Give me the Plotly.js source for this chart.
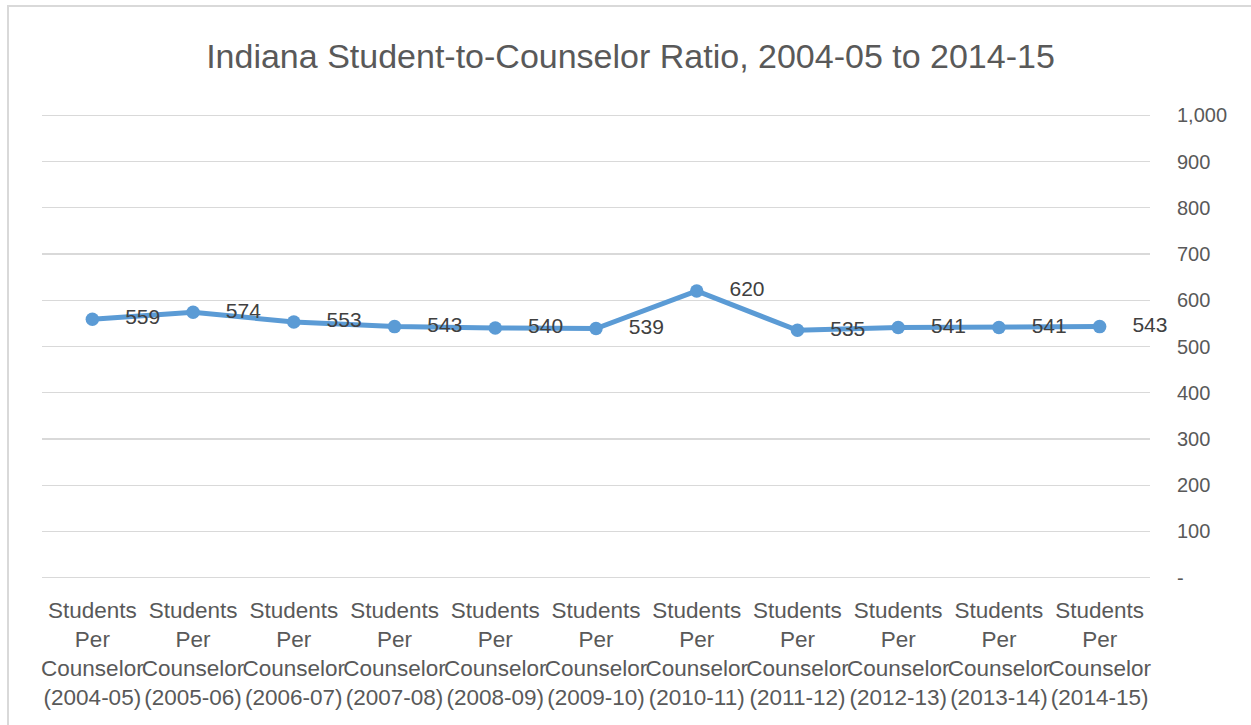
<!DOCTYPE html>
<html>
<head>
<meta charset="utf-8">
<script src="https://cdn.plot.ly/plotly-3.0.1.min.js"></script>
<style>
html,body{margin:0;padding:0;background:#fff;}
#chart{position:absolute;left:0;top:0;width:1251px;height:725px;}
#frame{position:absolute;left:7px;top:5px;width:1260px;height:740px;border-left:2px solid #d9d9d9;border-top:2px solid #d9d9d9;pointer-events:none;}
</style>
</head>
<body>
<div id="chart"></div>
<div id="frame"></div>
<script>
var categories = [
  "Students<br>Per<br>Counselor<br>(2004-05)",
  "Students<br>Per<br>Counselor<br>(2005-06)",
  "Students<br>Per<br>Counselor<br>(2006-07)",
  "Students<br>Per<br>Counselor<br>(2007-08)",
  "Students<br>Per<br>Counselor<br>(2008-09)",
  "Students<br>Per<br>Counselor<br>(2009-10)",
  "Students<br>Per<br>Counselor<br>(2010-11)",
  "Students<br>Per<br>Counselor<br>(2011-12)",
  "Students<br>Per<br>Counselor<br>(2012-13)",
  "Students<br>Per<br>Counselor<br>(2013-14)",
  "Students<br>Per<br>Counselor<br>(2014-15)"
];
var ratios = [559, 574, 553, 543, 540, 539, 620, 535, 541, 541, 543];
var yTickVals = [0, 100, 200, 300, 400, 500, 600, 700, 800, 900, 1000];
var yTickText = ["-", "100", "200", "300", "400", "500", "600", "700", "800", "900", "1,000"];
var chartTitle = "Indiana Student-to-Counselor Ratio, 2004-05 to 2014-15";

var fontFam = "Liberation Sans, Arial, sans-serif";

var trace = {
  x: categories,
  y: ratios,
  type: "scatter",
  mode: "lines+markers+text",
  text: ratios.map(function (v) { return "\u00a0\u00a0\u00a0\u00a0" + v; }),
  textposition: "middle right",
  textfont: {family: fontFam, size: 21, color: "#404040"},
  line: {color: "#5B9BD5", width: 5},
  marker: {color: "#5B9BD5", size: 13.5},
  cliponaxis: false,
  hoverinfo: "x+y"
};

var layout = {
  width: 1251,
  height: 725,
  margin: {l: 42, r: 101, t: 113, b: 145},
  paper_bgcolor: "#ffffff",
  plot_bgcolor: "#ffffff",
  showlegend: false,
  title: {
    text: chartTitle,
    font: {family: fontFam, size: 34, color: "#595959"},
    x: 0.504, xanchor: "center",
    y: 0.922, yanchor: "middle"
  },
  xaxis: {
    type: "category",
    range: [-0.5, 10.5],
    showgrid: false,
    showline: false,
    zeroline: false,
    ticks: "",
    tickangle: 0,
    ticklabelstandoff: 14,
    tickfont: {family: fontFam, size: 22.5, color: "#595959"},
    automargin: false
  },
  yaxis: {
    side: "right",
    range: [-5, 1005],
    tickvals: yTickVals,
    ticktext: yTickText,
    showgrid: true,
    gridcolor: "#d9d9d9",
    gridwidth: 1.3,
    zeroline: false,
    showline: false,
    ticks: "",
    ticklabelstandoff: 26,
    tickfont: {family: fontFam, size: 20, color: "#595959"},
    automargin: false
  }
};

Plotly.newPlot("chart", [trace], layout, {displayModeBar: false, staticPlot: true});
</script>
</body>
</html>
